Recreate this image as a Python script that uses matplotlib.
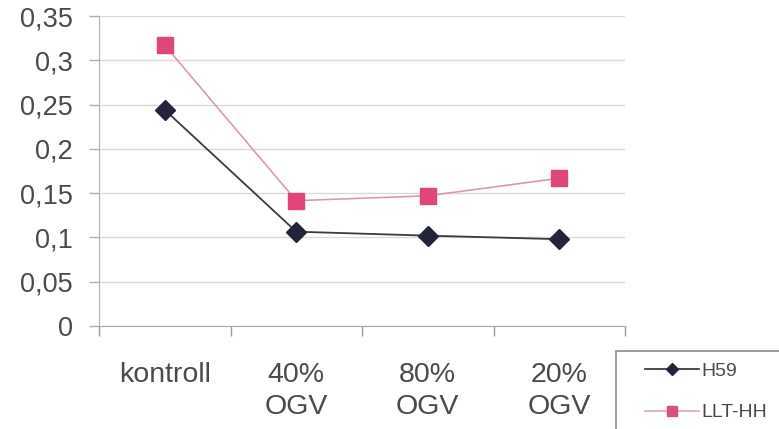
import matplotlib
matplotlib.use("Agg")
import matplotlib.pyplot as plt
from matplotlib.patches import Rectangle
from matplotlib.lines import Line2D
from matplotlib.ticker import FixedLocator

plt.rcParams['font.family'] = ['Liberation Sans', 'DejaVu Sans']

categories = ["kontroll", "40%\nOGV", "80%\nOGV", "20%\nOGV"]
h59 = [0.244, 0.1065, 0.102, 0.098]
llt_hh = [0.317, 0.1415, 0.147, 0.1668]
y_ticks = [0, 0.05, 0.1, 0.15, 0.2, 0.25, 0.3, 0.35]
y_labels = ["0", "0,05", "0,1", "0,15", "0,2", "0,25", "0,3", "0,35"]

W, H = 779, 429
fig = plt.figure(figsize=(W / 100, H / 100), dpi=100)
ax = fig.add_axes([99 / W, 1 - 326 / H, (625 - 99) / W, (326 - 16) / H])

x = list(range(len(categories)))
ax.plot(x, h59, color="#3a3a44", lw=1.3, marker="D", ms=10.5,
        markerfacecolor="#23233a", markeredgecolor="#23233a", zorder=3)
ax.plot(x, llt_hh, color="#d89aaa", lw=1.2, marker="s", ms=11.5,
        markerfacecolor="#e0457c", markeredgecolor="#e0457c", zorder=3)

ax.set_xlim(-0.5, len(categories) - 0.5)
ax.set_ylim(0, 0.35)
ax.set_yticks(y_ticks)
ax.set_yticklabels(y_labels)
ax.yaxis.grid(True, color="#d9d9d9", lw=1)
ax.set_axisbelow(True)

ax.set_xticks(x)
ax.set_xticklabels(categories, linespacing=1.3, va="top")
ax.xaxis.set_minor_locator(FixedLocator([i - 0.5 for i in range(len(categories) + 1)]))
ax.tick_params(axis="x", which="major", length=0, pad=26, labelsize=20.5, labelcolor="#4a4a4a")
ax.tick_params(axis="x", which="minor", length=7, width=1, color="#9a9a9a", direction="out")
ax.tick_params(axis="y", length=7, width=1, color="#b0b0b0", pad=12, labelsize=19.5, labelcolor="#4a4a4a")

for side in ("top", "right"):
    ax.spines[side].set_visible(False)
ax.spines["left"].set_color("#b4b4b4")
ax.spines["bottom"].set_color("#a8a8b8")

# Legend box running off the lower right corner
fig.patches.append(Rectangle((616 / W, -0.05), 1, 1.05 - 351 / H, transform=fig.transFigure,
                             facecolor="white", edgecolor="#8a8a8a", lw=1.2))
handles = [
    Line2D([], [], color="#2a2a30", lw=1.2, marker="D", ms=6,
           markerfacecolor="#23233a", markeredgecolor="#23233a"),
    Line2D([], [], color="#e0a8b8", lw=1.2, marker="s", ms=7.5,
           markerfacecolor="#d8507e", markeredgecolor="#d8507e"),
]
fig.legend(handles, ["H59", "LLT-HH"], loc="upper left",
           bbox_to_anchor=(627 / W, 1 - 345 / H), frameon=False,
           fontsize=14, handlelength=2.8, handletextpad=0.12,
           labelspacing=1.22, labelcolor="#4a4a4a")

fig.savefig("out.png", dpi=100)
